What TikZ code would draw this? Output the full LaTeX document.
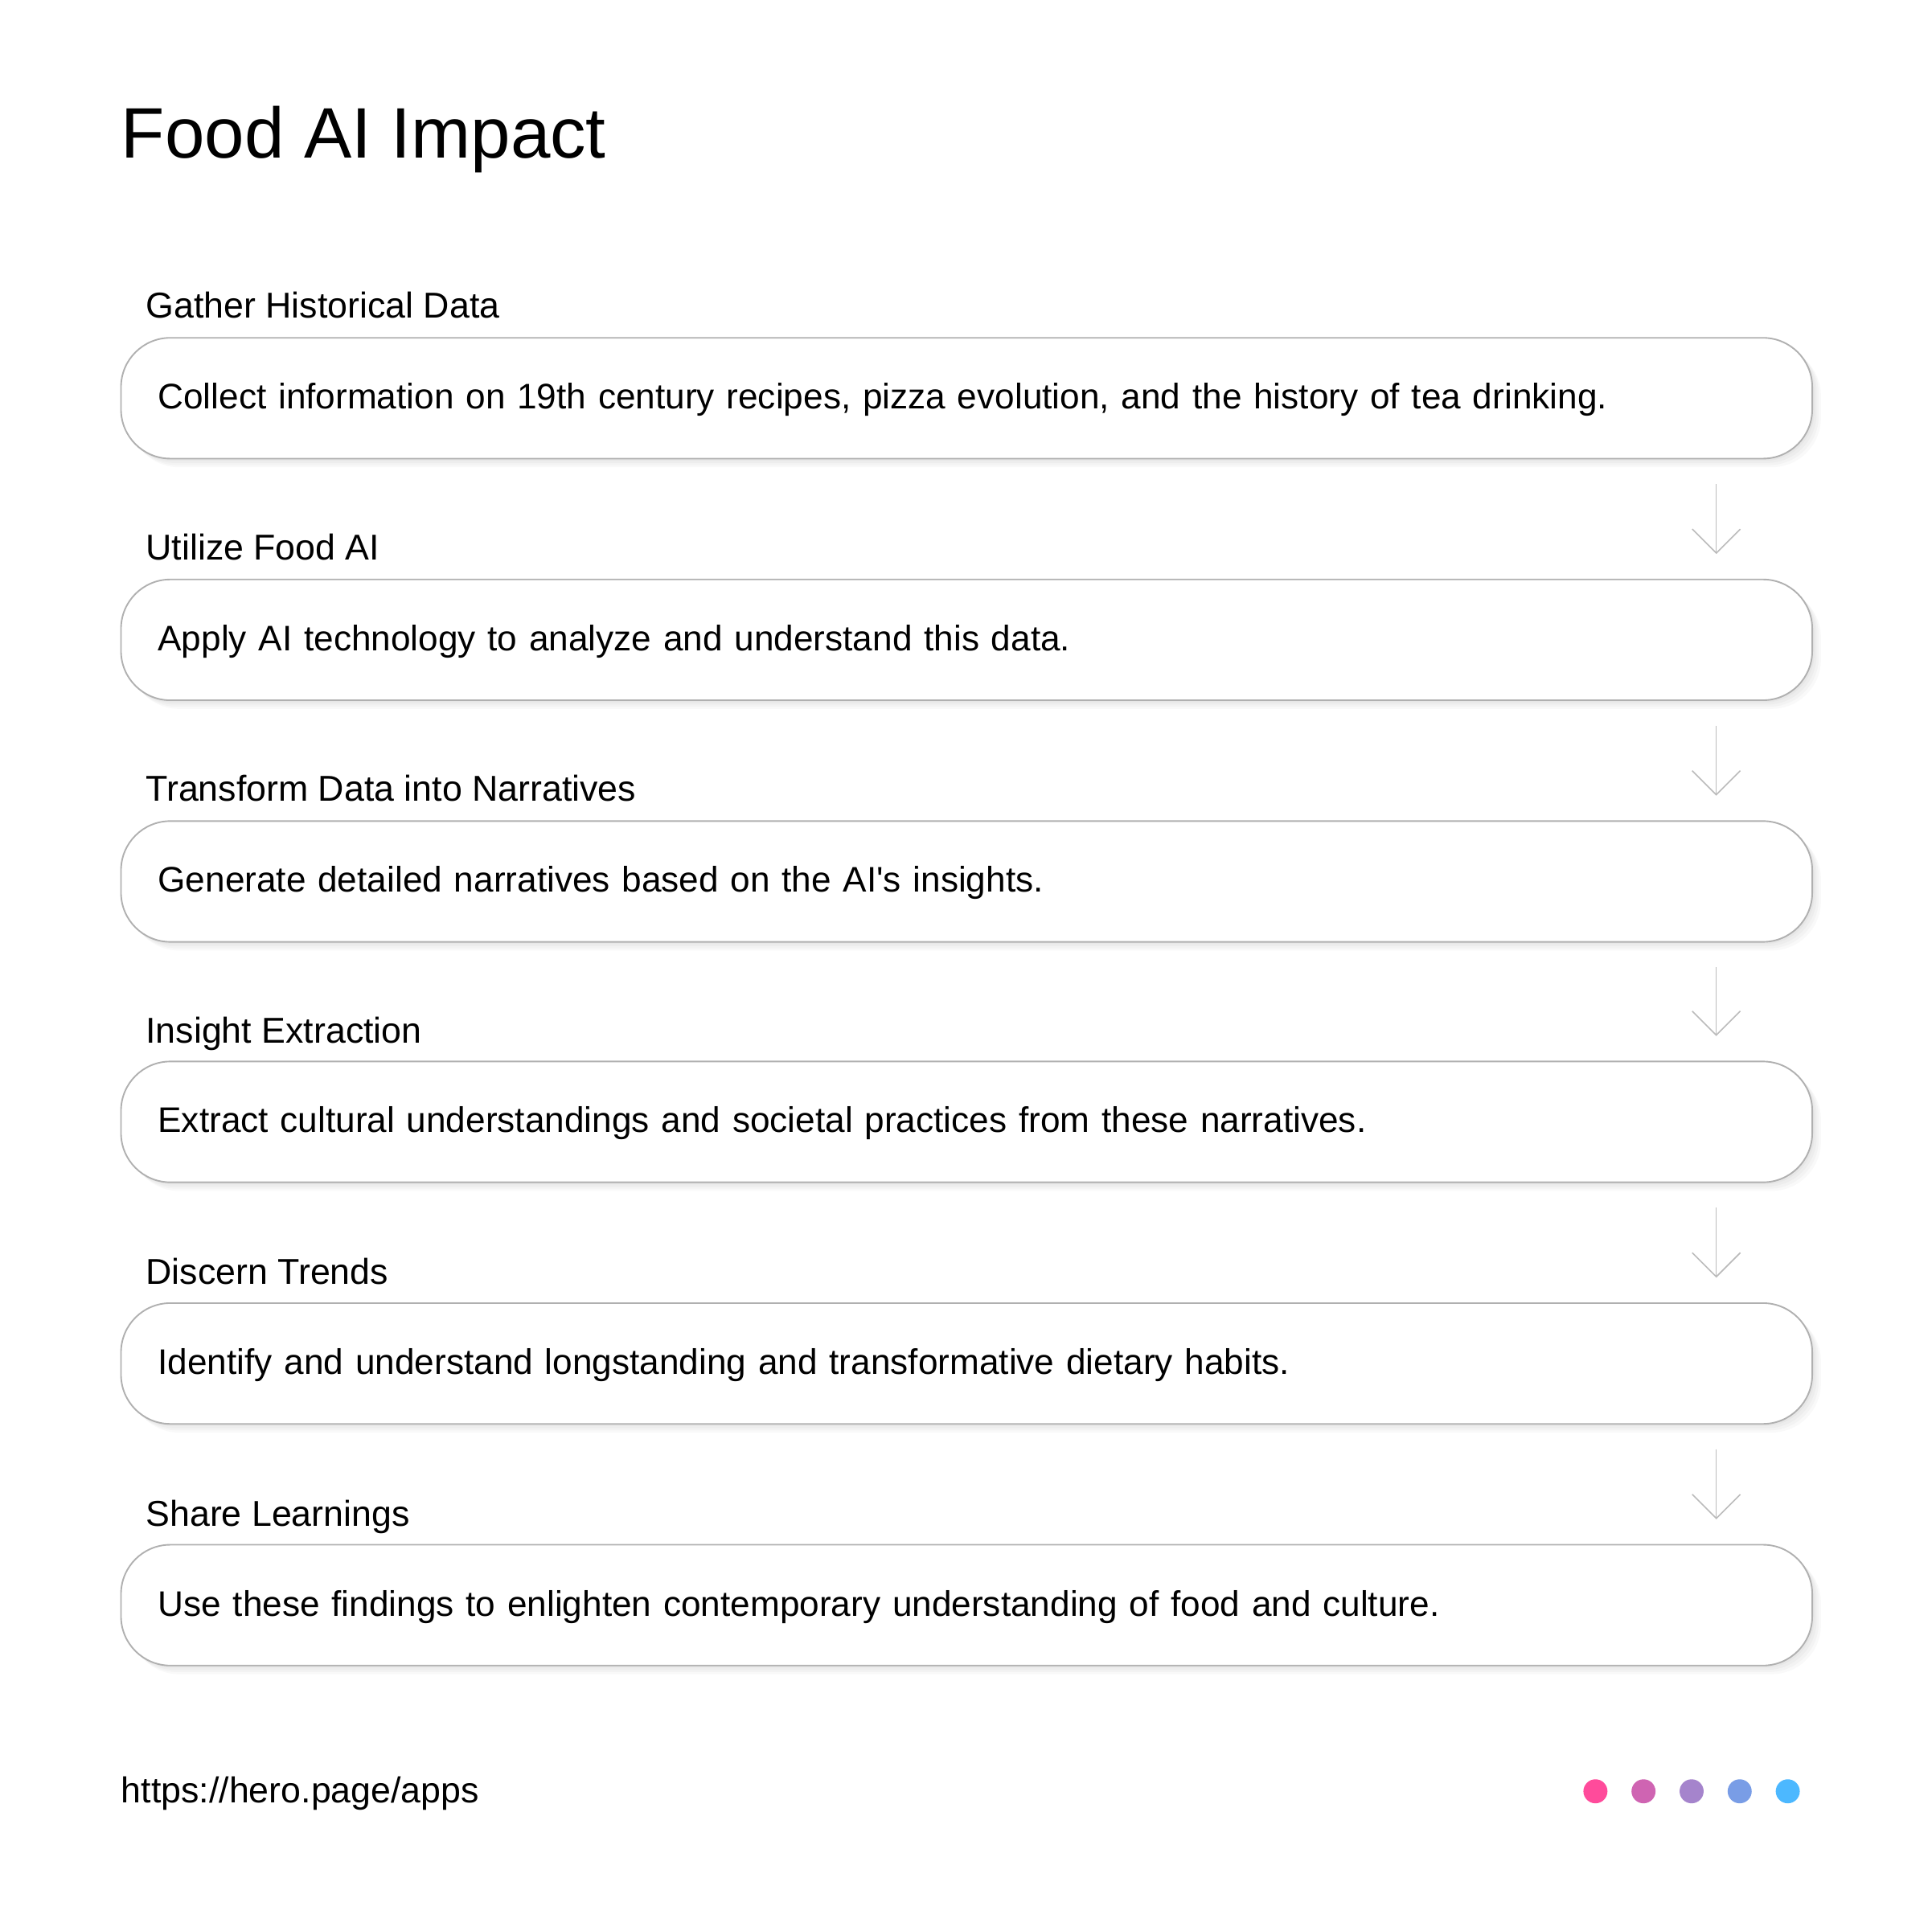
\documentclass[tikz,border=0pt]{standalone}
\usepackage{fontspec}
\setmainfont{Liberation Sans}
\usetikzlibrary{arrows.meta,calc,shadows}
\definecolor{boxline}{HTML}{B0B0B0}
\definecolor{arrowgray}{HTML}{BBBBBB}
\definecolor{dotpink}{HTML}{FF4B9B}
\definecolor{dotmagenta}{HTML}{CF64B2}
\definecolor{dotpurple}{HTML}{A584CC}
\definecolor{dotblue}{HTML}{799DE6}
\definecolor{dotsky}{HTML}{4CB8FF}
\tikzset{
  softshadow/.style={general shadow={fill=black, opacity=0.025, shadow xshift=#1, shadow yshift=-#1}},
  stepbox/.style={draw=boxline, line width=0.7pt, fill=white, rounded corners=0.8cm,
    minimum width=27.44cm, minimum height=1.96cm, text width=26.24cm, inner xsep=0.6cm,
    align=left, font=\fontsize{16.4}{20}\selectfont, text height=12pt, text depth=2pt,
    softshadow=4pt, softshadow=3pt, softshadow=2pt, softshadow=1pt},
  steplabel/.style={anchor=base west, inner sep=0pt, font=\fontsize{16.6}{20}\selectfont},
  flowarrow/.style={draw=arrowgray, line width=0.6pt, -{Straight Barb[length=0.39cm, width=0.78cm]}},
  navdot/.style={circle, inner sep=0pt, minimum size=0.39cm}
}

\begin{document}
\begin{tikzpicture}[x=0.02cm, y=-0.02cm]
    \fill [white] (0,0) rectangle (1567,1566);
    \useasboundingbox (0,0) rectangle (1567,1566);
    % title
    \node [anchor=base west, inner sep=0pt, font=\fontsize{33}{40}\selectfont] (title) at (98,128) {Food AI Impact};
    % steps
    \node [steplabel] (lbl1) at (118,258) {Gather Historical Data};
    \node [stepbox] (box1) at (784,323) {Collect information on 19th century recipes, pizza evolution, and the history of tea drinking.};
    \node [steplabel] (lbl2) at (118,454) {Utilize Food AI};
    \node [stepbox] (box2) at (784,519) {Apply AI technology to analyze and understand this data.};
    \node [steplabel] (lbl3) at (118,650) {Transform Data into Narratives};
    \node [stepbox] (box3) at (784,715) {Generate detailed narratives based on the AI\textquotesingle s insights.};
    \node [steplabel] (lbl4) at (118,846) {Insight Extraction};
    \node [stepbox] (box4) at (784,910) {Extract cultural understandings and societal practices from these narratives.};
    \node [steplabel] (lbl5) at (118,1042) {Discern Trends};
    \node [stepbox] (box5) at (784,1106) {Identify and understand longstanding and transformative dietary habits.};
    \node [steplabel] (lbl6) at (118,1238) {Share Learnings};
    \node [stepbox] (box6) at (784,1302) {Use these findings to enlighten contemporary understanding of food and culture.};
    % arrows between steps
    \draw [flowarrow] ($(box1.south)+(608,20)$) -- ($(box2.north)+(608,-20)$);
    \draw [flowarrow] ($(box2.south)+(608,20)$) -- ($(box3.north)+(608,-20)$);
    \draw [flowarrow] ($(box3.south)+(608,20)$) -- ($(box4.north)+(608,-20)$);
    \draw [flowarrow] ($(box4.south)+(608,20)$) -- ($(box5.north)+(608,-20)$);
    \draw [flowarrow] ($(box5.south)+(608,20)$) -- ($(box6.north)+(608,-20)$);
    % footer
    \node [steplabel] (url) at (98,1462) {https://hero.page/apps};
    \node [navdot, fill=dotpink] (dot1) at (1294,1453) {};
    \node [navdot, fill=dotmagenta] (dot2) at (1333,1453) {};
    \node [navdot, fill=dotpurple] (dot3) at (1372,1453) {};
    \node [navdot, fill=dotblue] (dot4) at (1411,1453) {};
    \node [navdot, fill=dotsky] (dot5) at (1450,1453) {};
  \end{tikzpicture}
\end{document}
